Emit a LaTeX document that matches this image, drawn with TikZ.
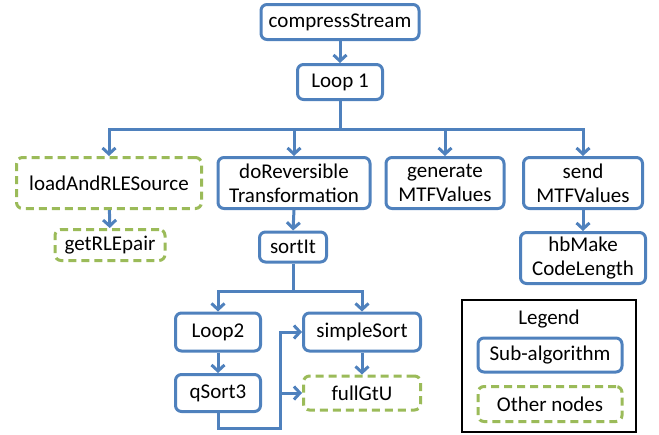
\documentclass[tikz,border=0pt]{standalone}
\usepackage{fontspec}
\setmainfont{Carlito}
\usetikzlibrary{arrows.meta}
\definecolor{bl}{RGB}{79,129,189}
\definecolor{gr}{RGB}{155,187,89}
\begin{document}
\begin{tikzpicture}[x=1pt,y=-1pt,
  every node/.style={font=\fontsize{21}{24}\selectfont, inner sep=0pt, align=center},
  sub/.style={draw=bl, line width=3pt, rounded corners=6pt, fill=white},
  oth/.style={draw=gr, line width=3pt, rounded corners=6pt, dash pattern=on 8pt off 5pt, fill=white},
  con/.style={draw=bl, line width=3pt},
  arr/.style={con, -{Straight Barb[length=6pt,width=13pt]}}]
\useasboundingbox (0,0) rectangle (659,434);
\node[sub, minimum width=158pt, minimum height=35pt] (cs) at (340,22) {compressStream};
\node[sub, minimum width=85pt, minimum height=35pt] (loop1) at (340,82) {Loop 1};
\node[oth, minimum width=185pt, minimum height=51pt] (load) at (109,183) {loadAndRLESource};
\node[sub, minimum width=152pt, minimum height=51pt] (dorev) at (294,183) {doReversible\\Transformation};
\node[sub, minimum width=118pt, minimum height=51pt] (gen) at (445,183) {generate\\MTFValues};
\node[sub, minimum width=119pt, minimum height=51pt] (send) at (583,183) {send\\MTFValues};
\node[oth, minimum width=110pt, minimum height=31pt] (getrle) at (110,245) {getRLEpair};
\node[sub, minimum width=67pt, minimum height=30pt] (sortit) at (293,247) {sortIt};
\node[sub, minimum width=125pt, minimum height=51pt] (hb) at (583,258) {hbMake\\CodeLength};
\node[sub, minimum width=85pt, minimum height=38pt] (loop2) at (218,332) {Loop2};
\node[sub, minimum width=85pt, minimum height=37pt] (qsort) at (218,393) {qSort3};
\node[sub, minimum width=117pt, minimum height=38pt] (simple) at (362,332) {simpleSort};
\node[oth, minimum width=117pt, minimum height=34pt] (full) at (362,393) {fullGtU};
% legend
\draw[black, line width=2.6pt] (462,300) rectangle (636,432);
\node (legt) at (549,319) {Legend};
\node[sub, minimum width=144pt, minimum height=34pt] (legs) at (550,355) {Sub-algorithm};
\node[oth, minimum width=144pt, minimum height=35pt] (lego) at (550,404) {Other nodes};
% connectors
\draw[arr] (cs) -- (loop1);
\coordinate (bar) at (340,129);
\draw[con] (loop1.south) -- (bar);
\draw[arr] (bar) -| (load.north);
\draw[arr] (bar) -| (dorev.north);
\draw[arr] (bar) -| (gen.north);
\draw[arr] (bar) -| (send.north);
\draw[arr] (load) -- (getrle);
\draw[arr] (dorev.south) -- (sortit.north);
\draw[arr] (send) -- (hb);
\coordinate (sj) at (293,291);
\draw[con] (sortit.south) -- (sj);
\draw[arr] (sj) -| (loop2.north);
\draw[arr] (sj) -| (simple.north);
\draw[arr] (loop2) -- (qsort);
\draw[arr] (simple) -- (full);
\coordinate (qr) at (280,428);
\draw[arr] (qsort.south) |- (qr) |- (simple.west);
\draw[arr] (qr |- full.west) -- (full.west);
\end{tikzpicture}
\end{document}
